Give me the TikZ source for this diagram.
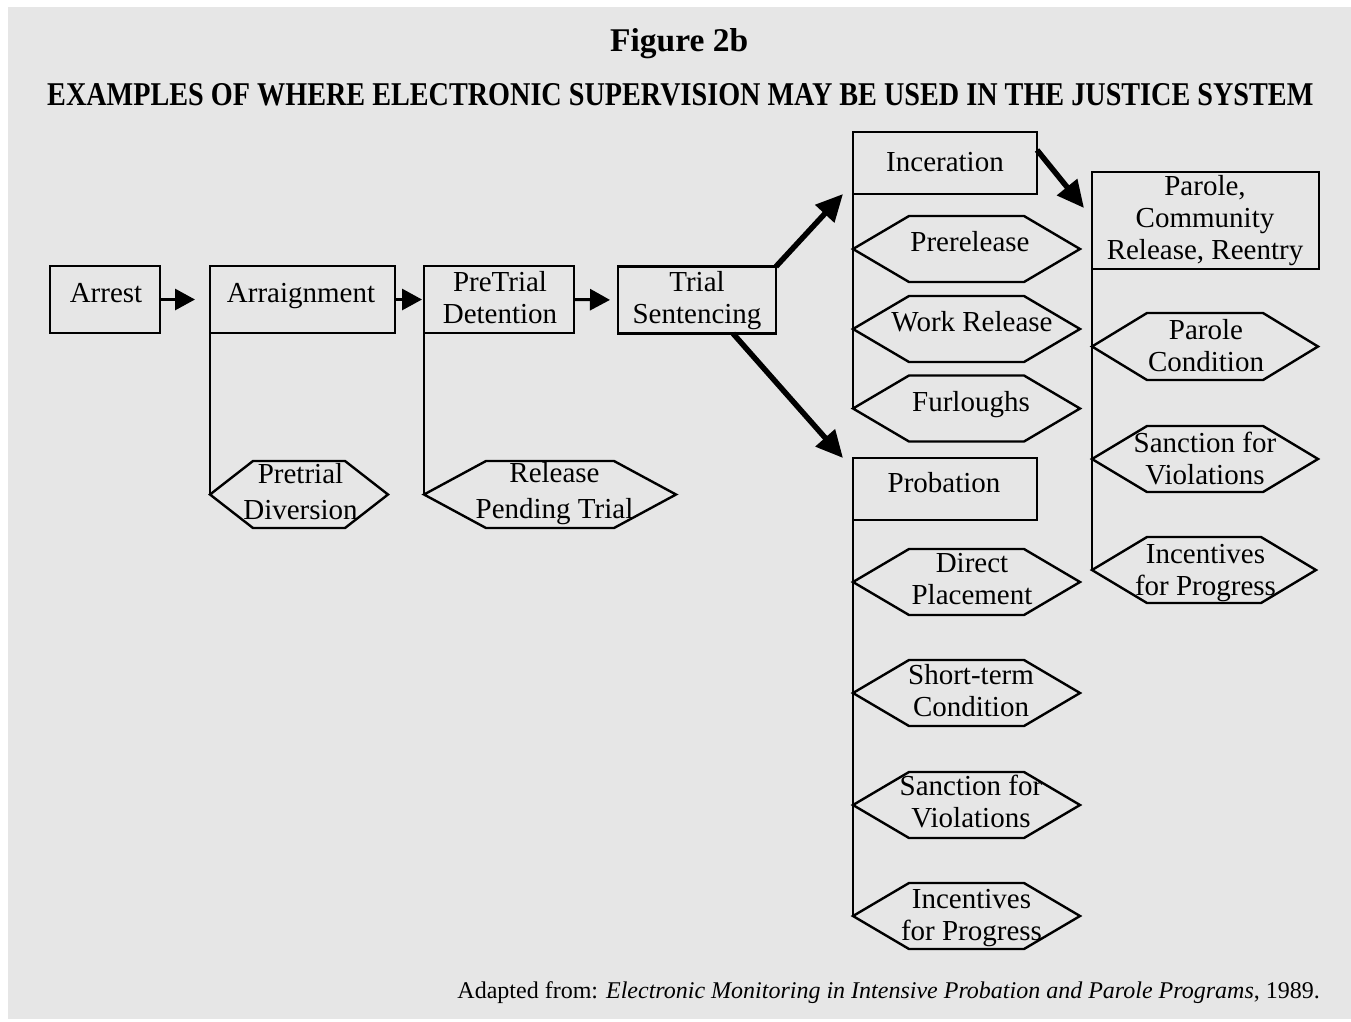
\documentclass[tikz,border=0pt]{standalone}
\usepackage{fontspec}
\setmainfont{Liberation Serif}
\usetikzlibrary{arrows.meta,calc}
\definecolor{bggray}{HTML}{E6E6E6}
\newcommand\hexpath[2]{% name, chamfer
  \draw[hexline] (#1.west) -- ([xshift=#2]#1.north west) -- ([xshift=-#2]#1.north east)
    -- (#1.east) -- ([xshift=-#2]#1.south east) -- ([xshift=#2]#1.south west) -- cycle;}
\begin{document}
\begin{tikzpicture}[x=1pt,y=-1pt,
  boxnode/.style={draw, line width=2.6pt, inner sep=0pt, outer sep=0pt},
  hexnode/.style={draw=none, inner sep=0pt, outer sep=0pt, minimum height=67pt},
  hexline/.style={line width=2.4pt, line join=miter},
  txt/.style={font=\fontsize{29}{32}\selectfont, align=center, inner sep=0pt},
  onetxt/.style={txt, text height=19.7pt, text depth=6.4pt},
  conn/.style={line width=2.6pt},
  smallarrow/.style={line width=3pt, -{Triangle[length=20pt,width=21pt]}},
  bigarrow/.style={line width=5.5pt, -{Triangle[length=27pt,width=25pt]}},
]
\useasboundingbox (0,0) rectangle (1351,1021);
\fill[bggray] (8,7) rectangle (1351,1019);

% titles
\node[anchor=base west, inner sep=0pt] (fig) at (610,51)
  {\resizebox{138pt}{23pt}{\bfseries Figure 2b}};
\node[anchor=base west, inner sep=0pt] (title) at (47,105)
  {\resizebox{1266pt}{22pt}{\bfseries EXAMPLES OF WHERE ELECTRONIC SUPERVISION MAY BE USED IN THE JUSTICE SYSTEM}};

% main boxes
\node[boxnode, minimum width=110pt, minimum height=67pt] (arrest) at (105,299.5) {};
\node[onetxt] (arrest-t) at (106,296.3) {Arrest};
\node[boxnode, minimum width=185pt, minimum height=67pt] (arraign) at (302.5,299.5) {};
\node[onetxt] (arraign-t) at (301,296.3) {Arraignment};
\node[boxnode, minimum width=150pt, minimum height=67pt] (pretrial) at (499,299.5) {};
\node[txt] (pretrial-t) at (500,297.5) {PreTrial\\Detention};
\node[boxnode, minimum width=158pt, minimum height=67pt] (trial) at (697,300) {};
\node[txt] (trial-t) at (697,300.5) {Trial\\Sentencing};
\node[boxnode, minimum width=184pt, minimum height=62pt] (incer) at (945,163) {};
\node[onetxt] (incer-t) at (945,165.3) {Inceration};
\node[boxnode, minimum width=184pt, minimum height=62pt] (prob) at (945,489) {};
\node[onetxt] (prob-t) at (944,486.3) {Probation};
\node[boxnode, minimum width=227pt, minimum height=97pt] (parole) at (1205.5,220.5) {};
\node[txt] (parole-t) at (1205,220.3) {Parole,\\Community\\Release, Reentry};

% hexagons
\node[hexnode, minimum width=178pt] (pdiv) at (299,494.5) {};
\hexpath{pdiv}{43pt}
\node[txt] (pdiv-t) at (300.5,491.5) {Pretrial\\[4pt]Diversion};
\node[hexnode, minimum width=252pt] (rpt) at (550,494.5) {};
\hexpath{rpt}{62pt}
\node[txt] (rpt-t) at (554.5,493.8) {Release\\[4pt]Pending Trial};

\node[hexnode, minimum width=227pt, minimum height=66pt] (prerel) at (966.5,249) {};
\hexpath{prerel}{56pt}
\node[onetxt] (prerel-t) at (970,245.3) {Prerelease};
\node[hexnode, minimum width=227pt, minimum height=66pt] (work) at (966.5,329) {};
\hexpath{work}{56pt}
\node[onetxt] (work-t) at (972,325.3) {Work Release};
\node[hexnode, minimum width=227pt, minimum height=66pt] (furl) at (966.5,408.5) {};
\hexpath{furl}{56pt}
\node[onetxt] (furl-t) at (971,405.3) {Furloughs};

\node[hexnode, minimum width=227pt, minimum height=66pt] (direct) at (966.5,582) {};
\hexpath{direct}{56pt}
\node[txt] (direct-t) at (972,579) {Direct\\Placement};
\node[hexnode, minimum width=227pt, minimum height=66pt] (short) at (966.5,693) {};
\hexpath{short}{56pt}
\node[txt] (short-t) at (971,691) {Short-term\\Condition};
\node[hexnode, minimum width=227pt, minimum height=66pt] (sancp) at (966.5,805) {};
\hexpath{sancp}{56pt}
\node[txt] (sancp-t) at (971,801.5) {Sanction for\\Violations};
\node[hexnode, minimum width=227pt, minimum height=66pt] (incp) at (966.5,916) {};
\hexpath{incp}{56pt}
\node[txt] (incp-t) at (971.5,918.5) {Incentives\\for Progress};

\node[hexnode, minimum width=226pt, minimum height=67pt] (pcond) at (1205,346.5) {};
\hexpath{pcond}{55pt}
\node[txt] (pcond-t) at (1206,346) {Parole\\Condition};
\node[hexnode, minimum width=226pt, minimum height=66pt] (sancr) at (1205,459) {};
\hexpath{sancr}{55pt}
\node[txt] (sancr-t) at (1205,458) {Sanction for\\Violations};
\node[hexnode, minimum width=224pt, minimum height=66pt] (incr) at (1204,570) {};
\hexpath{incr}{55pt}
\node[txt] (incr-t) at (1205.5,573) {Incentives\\for Progress};

% vertical connectors
\draw[conn] (arraign.south west) -- (pdiv.west);
\draw[conn] (pretrial.south west) -- (rpt.west);
\draw[conn] (incer.south west) -- (furl.west);
\draw[conn] (prob.south west) -- (incp.west);
\draw[conn] (parole.south west) -- (incr.west);

% horizontal arrows
\draw[smallarrow, shorten >=15pt] (arrest.east) -- (arraign.west);
\draw[smallarrow, shorten >=2pt] (arraign.east) -- (pretrial.west);
\draw[smallarrow, shorten >=8pt] (pretrial.east) -- (trial.west);

% diagonal arrows
\coordinate (incer-in) at ([xshift=-10pt]incer.south west);
\coordinate (prob-in) at ([xshift=-10pt]prob.north west);
\coordinate (trial-out) at ([xshift=-43pt]trial.south east);
\coordinate (incer-out) at ([yshift=-18pt]incer.north east);
\coordinate (parole-in) at ([xshift=-8pt,yshift=-36pt]parole.north west);
\draw[bigarrow] (trial.north east) -- (incer-in);
\draw[bigarrow] (trial-out) -- (prob-in);
\draw[bigarrow] (incer-out) -- (parole-in);

% footer
\node[anchor=base east, inner sep=0pt, font=\fontsize{24}{28}\selectfont] (footer) at (1320,998)
  {Adapted from: \textit{Electronic Monitoring in Intensive Probation and Parole Programs}, 1989.};
\end{tikzpicture}
\end{document}
